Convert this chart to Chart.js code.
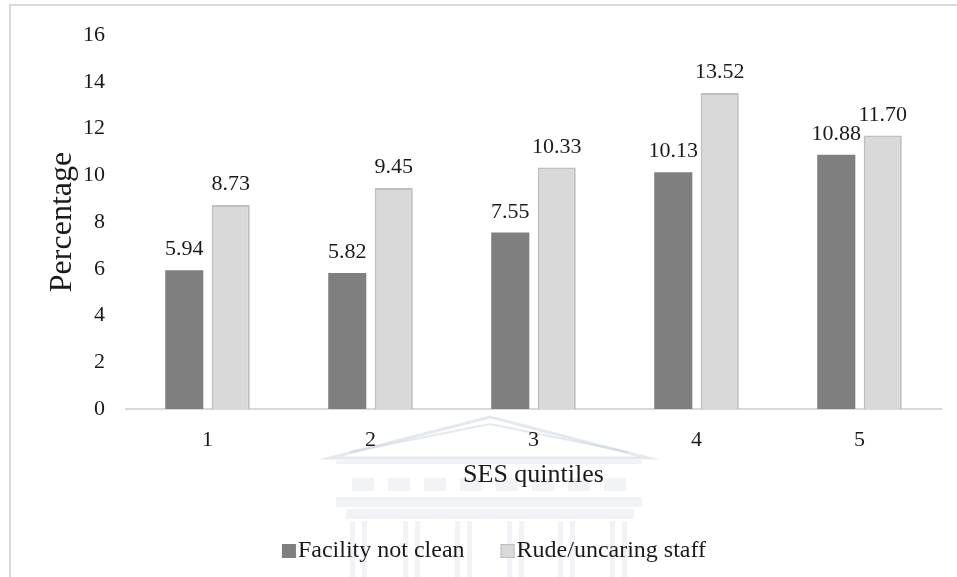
<!DOCTYPE html>
<html>
<head>
<meta charset="utf-8">
<script src="https://cdn.jsdelivr.net/npm/chart.js@4.4.1/dist/chart.umd.min.js"></script>
<style>
  html, body { margin: 0; padding: 0; background: #ffffff; }
  #wrap { width: 957px; height: 577px; position: relative; }
</style>
</head>
<body>
<div id="wrap"><canvas id="chart" width="957" height="577"></canvas></div>
<script>
// Share of respondents reporting each complaint, by SES quintile
const quintiles = ['1', '2', '3', '4', '5'];
const facilityNotClean = [5.94, 5.82, 7.55, 10.13, 10.88];
const rudeUncaringStaff = [8.73, 9.45, 10.33, 13.52, 11.70];
const seriesNames = ['Facility not clean', 'Rude/uncaring staff'];
const yTicks = [0, 2, 4, 6, 8, 10, 12, 14, 16];

const SERIF = '"Liberation Serif", "Times New Roman", serif';
const TEXT = '#1a1a1a';

// White background, light frame, and the faint building emblem behind the lower text
const framePlugin = {
  id: 'frame',
  beforeDraw(chart) {
    const ctx = chart.ctx;
    ctx.save();
    ctx.fillStyle = '#ffffff';
    ctx.fillRect(0, 0, chart.width, chart.height);
    ctx.strokeStyle = '#d9d9d9';
    ctx.lineWidth = 2;
    ctx.beginPath();
    ctx.moveTo(10, chart.height);
    ctx.lineTo(10, 5);
    ctx.lineTo(chart.width, 5);
    ctx.stroke();

    // emblem: pediment, entablature and columns
    ctx.strokeStyle = 'rgba(196, 204, 220, 0.45)';
    ctx.fillStyle = 'rgba(214, 220, 232, 0.35)';
    ctx.lineWidth = 3;
    ctx.beginPath();
    ctx.moveTo(330, 458); ctx.lineTo(490, 417); ctx.lineTo(648, 458); ctx.closePath();
    ctx.stroke();
    ctx.lineWidth = 2;
    ctx.beginPath();
    ctx.moveTo(350, 452); ctx.lineTo(490, 424); ctx.lineTo(628, 452);
    ctx.stroke();
    ctx.fillRect(336, 460, 306, 4);
    for (let i = 0; i < 8; i++) {
      ctx.fillRect(352 + i * 36, 478, 22, 13);
    }
    ctx.fillRect(336, 497, 306, 10);
    ctx.fillRect(346, 509, 288, 10);
    [350, 403, 455, 507, 558, 610].forEach(cx => {
      ctx.fillRect(cx, 521, 5, 56);
      ctx.fillRect(cx + 12, 521, 5, 56);
    });
    ctx.restore();
  }
};

// Value labels above each bar
const valueLabels = {
  id: 'valueLabels',
  afterDatasetsDraw(chart) {
    const ctx = chart.ctx;
    ctx.save();
    ctx.font = '22px ' + SERIF;
    ctx.fillStyle = TEXT;
    ctx.textAlign = 'center';
    ctx.textBaseline = 'alphabetic';
    chart.data.datasets.forEach((ds, i) => {
      chart.getDatasetMeta(i).data.forEach((bar, j) => {
        ctx.fillText(ds.data[j].toFixed(2), bar.x, bar.y - 15);
      });
    });
    ctx.restore();
  }
};

// Legend row under the axis title
const bottomLegend = {
  id: 'bottomLegend',
  afterDraw(chart) {
    const ctx = chart.ctx;
    ctx.save();
    ctx.font = '24px ' + SERIF;
    ctx.textBaseline = 'middle';
    const box = 14, gapText = 2, gapItem = 36;
    const items = chart.data.datasets.map(ds => ({
      label: ds.label, fill: ds.backgroundColor, stroke: ds.borderColor, bw: ds.borderWidth,
      w: box + gapText + ctx.measureText(ds.label).width
    }));
    const total = items.reduce((s, it) => s + it.w, 0) + gapItem * (items.length - 1);
    let x = 494 - total / 2;
    const y = 551;
    items.forEach(it => {
      ctx.fillStyle = it.fill;
      ctx.fillRect(x, y - box / 2, box, box);
      if (it.bw) {
        ctx.strokeStyle = it.stroke;
        ctx.lineWidth = 1;
        ctx.strokeRect(x + 0.5, y - box / 2 + 0.5, box - 1, box - 1);
      }
      ctx.fillStyle = TEXT;
      ctx.textAlign = 'left';
      ctx.fillText(it.label, x + box + gapText, y);
      x += it.w + gapItem;
    });
    ctx.restore();
  }
};

new Chart(document.getElementById('chart'), {
  type: 'bar',
  data: {
    labels: quintiles,
    datasets: [
      {
        label: seriesNames[0],
        data: facilityNotClean,
        backgroundColor: '#7f7f7f',
        borderColor: '#7f7f7f',
        borderWidth: 0
      },
      {
        label: seriesNames[1],
        data: rudeUncaringStaff,
        backgroundColor: '#d9d9d9',
        borderColor: '#bfbfbf',
        borderWidth: 2
      }
    ]
  },
  options: {
    responsive: false,
    animation: false,
    devicePixelRatio: 1,
    layout: { padding: { left: 0, right: 16, top: 35, bottom: 0 } },
    categoryPercentage: 0.57,
    barPercentage: 0.82,
    plugins: {
      legend: { display: false },
      tooltip: { enabled: false }
    },
    scales: {
      x: {
        grid: { display: false, drawTicks: false },
        border: { display: true, color: '#d9d9d9', width: 2 },
        ticks: { color: TEXT, font: { family: SERIF, size: 22 }, padding: 18 },
        title: {
          display: true, text: 'SES quintiles', color: TEXT,
          font: { family: SERIF, size: 26 }, padding: { top: 0, bottom: 86 }
        },
        afterFit(scale) { scale.height = 168; }
      },
      y: {
        min: 0, max: 16,
        afterBuildTicks(scale) { scale.ticks = yTicks.map(v => ({ value: v })); },
        grid: { display: false, drawTicks: false },
        border: { display: false },
        ticks: { color: TEXT, font: { family: SERIF, size: 22 }, padding: 21 },
        title: {
          display: true, text: 'Percentage', color: TEXT,
          font: { family: SERIF, size: 32 }, padding: { top: 43, bottom: 0 }
        },
        afterFit(scale) { scale.width = 126; }
      }
    }
  },
  plugins: [framePlugin, valueLabels, bottomLegend]
});
</script>
</body>
</html>
